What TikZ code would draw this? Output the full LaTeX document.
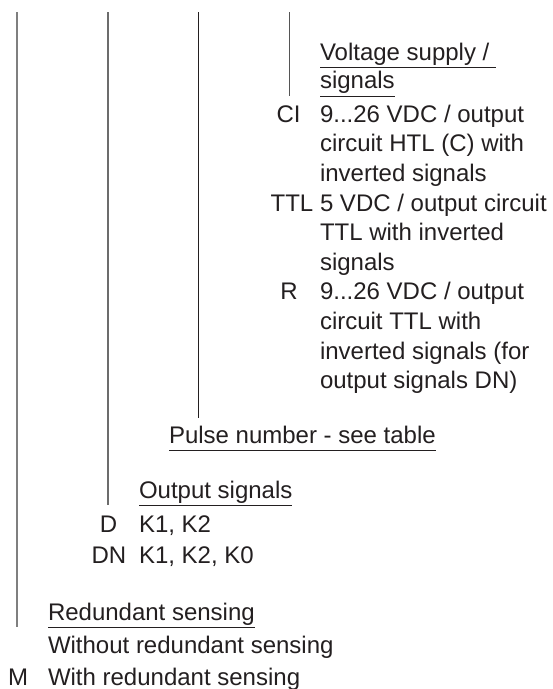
\documentclass[tikz,border=0pt]{standalone}
\usepackage{fontspec}
\setmainfont{Liberation Sans}
\definecolor{ink}{HTML}{231F20}
\definecolor{rulegray}{HTML}{7F7F7F}
\definecolor{midgray}{HTML}{555555}
\tikzset{
  txt/.style={anchor=base west, inner sep=0pt, outer sep=0pt, text=ink,
    font=\fontsize{24}{29}\selectfont},
  lbl/.style={anchor=base, inner sep=0pt, outer sep=0pt, text=ink,
    font=\fontsize{24}{29}\selectfont},
  uline/.style={draw=ink, line width=0.9pt},
  vlineA/.style={draw=rulegray, line width=1.5pt},
  vlineB/.style={draw=rulegray!85!black, line width=1.2pt},
  vlineC/.style={draw=ink, line width=0.9pt},
  vlineD/.style={draw=midgray, line width=0.9pt}
}
\begin{document}
\begin{tikzpicture}[x=1pt,y=-1pt]
\useasboundingbox (0,0) rectangle (553,689);

% vertical leader lines
\coordinate (t1) at (17,12);  \coordinate (b1) at (17,627);
\coordinate (t2) at (108,12); \coordinate (b2) at (108,505);
\coordinate (t3) at (198,12); \coordinate (b3) at (198,418);
\coordinate (t4) at (289,12); \coordinate (b4) at (289,96);
\draw[vlineA] (t1) -- (b1);
\draw[vlineB] (t2) -- (b2);
\draw[vlineC] (t3) -- (b3);
\draw[vlineD] (t4) -- (b4);

% block 4: voltage supply / signals
\node[txt] (h4a) at (320,60.3) {Voltage supply /};
\node[txt] (h4b) at (320,88.8) {signals};
\draw[uline] ([yshift=-7.3pt]h4a.base west) -- ([yshift=-7.3pt,xshift=7pt]h4a.base east);
\draw[uline] ([yshift=-7.3pt]h4b.base west) -- ([yshift=-7.3pt]h4b.base east);

\node[lbl] (kCI) at (288.5,122.3) {CI};
\node[txt] (ci1) at (320,122.3) {9...26 VDC / output};
\node[txt] (ci2) at (320,151.9) {circuit HTL (C) with};
\node[txt] (ci3) at (320,181.5) {inverted signals};

\node[lbl] (kTTL) at (292,211.1) {TTL};
\node[txt] (tt1) at (320,211.1) {5 VDC / output circuit};
\node[txt] (tt2) at (320,240.7) {TTL with inverted};
\node[txt] (tt3) at (320,270.3) {signals};

\node[lbl] (kR) at (289,299.9) {R};
\node[txt] (r1) at (320,299.9) {9...26 VDC / output};
\node[txt] (r2) at (320,329.5) {circuit TTL with};
\node[txt] (r3) at (320,359.1) {inverted signals (for};
\node[txt] (r4) at (320,388.7) {output signals DN)};

% block 3: pulse number
\node[txt] (h3) at (169,443) {Pulse number - see table};
\draw[uline] ([yshift=-7.5pt]h3.base west) -- ([yshift=-7.5pt]h3.base east);

% block 2: output signals
\node[txt] (h2) at (139,498) {Output signals};
\draw[uline] ([yshift=-7.5pt]h2.base west) -- ([yshift=-7.5pt]h2.base east);
\node[lbl] (kD) at (108.5,532) {D};
\node[txt] (d1) at (139,532) {K1, K2};
\node[lbl] (kDN) at (109,563) {DN};
\node[txt] (dn1) at (139,563) {K1, K2, K0};

% block 1: redundant sensing
\node[txt] (h1) at (48,620) {Redundant sensing};
\draw[uline] ([yshift=-7.5pt]h1.base west) -- ([yshift=-7.5pt]h1.base east);
\node[txt] (w0) at (48,653) {Without redundant sensing};
\node[lbl] (kM) at (18,685) {M};
\node[txt] (w1) at (48,685) {With redundant sensing};
\end{tikzpicture}
\end{document}
